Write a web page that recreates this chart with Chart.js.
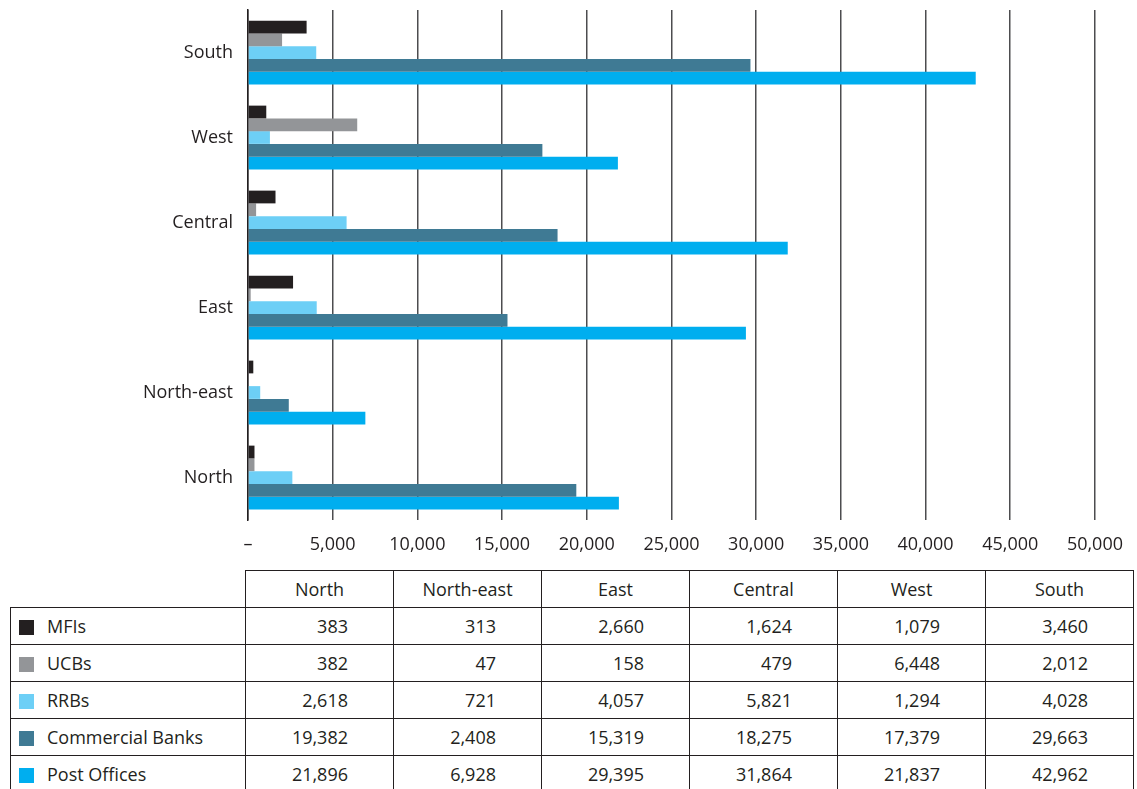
<!DOCTYPE html>
<html>
<head>
<meta charset="utf-8">
<script src="https://cdn.jsdelivr.net/npm/chart.js@4"></script>
<style>
  body { margin: 0; background: #fff; font-family: "Open Sans", sans-serif; color: #231f20; }
  #wrap { position: relative; width: 1137px; height: 570px; }
  table { border-collapse: collapse; margin-left: 10px; table-layout: fixed; width: 1123px; font-size: 18px; }
  td { border: 1.5px solid #231f20; height: 37px; padding: 0; box-sizing: border-box; }
  td.lab { padding-left: 8px; }
  td.num { text-align: right; padding-right: 45px; }
  td.head { text-align: center; }
  td.blank { border: none; border-bottom: 1.5px solid #231f20; }
  .sw { display: inline-block; width: 15px; height: 15px; margin-right: 13px; vertical-align: -2px; }
</style>
</head>
<body>
<div id="wrap"><canvas id="grafico" width="1137" height="570"></canvas></div>
<table id="tabla">
  <colgroup><col style="width:235px"><col span="6" style="width:148px"></colgroup>
</table>
<script>
const regiones = ["North", "North-east", "East", "Central", "West", "South"];
const series = ["MFIs", "UCBs", "RRBs", "Commercial Banks", "Post Offices"];
const colores = ["#231f20", "#939598", "#6dcff6", "#3f7a94", "#00aeef"];

const mfis = [383, 313, 2660, 1624, 1079, 3460];
const ucbs = [382, 47, 158, 479, 6448, 2012];
const rrbs = [2618, 721, 4057, 5821, 1294, 4028];
const bancos = [19382, 2408, 15319, 18275, 17379, 29663];
const correos = [21896, 6928, 29395, 31864, 21837, 42962];
const valores = [mfis, ucbs, rrbs, bancos, correos];

const xTicks = [0, 5000, 10000, 15000, 20000, 25000, 30000, 35000, 40000, 45000, 50000];

// el gráfico va de South (arriba) a North (abajo)
const etiquetas = regiones.slice().reverse();

const fmt = n => n.toLocaleString("en-US");

new Chart(document.getElementById("grafico"), {
  type: "bar",
  data: {
    labels: etiquetas,
    datasets: series.map((s, i) => ({
      label: s,
      data: valores[i].slice().reverse(),
      backgroundColor: colores[i],
      borderWidth: 0,
      barPercentage: 1,
      categoryPercentage: 0.75
    }))
  },
  options: {
    indexAxis: "y",
    responsive: false,
    animation: false,
    layout: { padding: { top: 10, right: 41, left: 0, bottom: 0 } },
    plugins: { legend: { display: false }, tooltip: { enabled: false } },
    scales: {
      x: {
        min: 0,
        max: 50000,
        afterBuildTicks: s => { s.ticks = xTicks.map(v => ({ value: v })); },
        afterFit: s => { s.height = 50; },
        grid: { color: "#4d4d4f", lineWidth: 1.5, drawTicks: false },
        border: { display: false },
        ticks: {
          padding: 14,
          color: "#231f20",
          font: { family: "Open Sans", size: 18 },
          callback: v => v === 0 ? "–" : fmt(v)
        }
      },
      y: {
        afterFit: s => { s.width = 248; s.paddingTop = 0; s.paddingBottom = 0; },
        grid: { display: false, drawTicks: false },
        border: { display: true, color: "#231f20", width: 1.5 },
        ticks: {
          padding: 15,
          color: "#231f20",
          font: { family: "Open Sans", size: 18 }
        }
      }
    }
  }
});

// tabla de datos con la leyenda
let html = '<tr><td class="blank lab"></td>' +
  regiones.map(r => `<td class="head">${r}</td>`).join("") + "</tr>";
series.forEach((s, i) => {
  html += `<tr><td class="lab"><span class="sw" style="background:${colores[i]}"></span>${s}</td>` +
    valores[i].map(v => `<td class="num">${fmt(v)}</td>`).join("") + "</tr>";
});
document.getElementById("tabla").insertAdjacentHTML("beforeend", html);
</script>
</body>
</html>
